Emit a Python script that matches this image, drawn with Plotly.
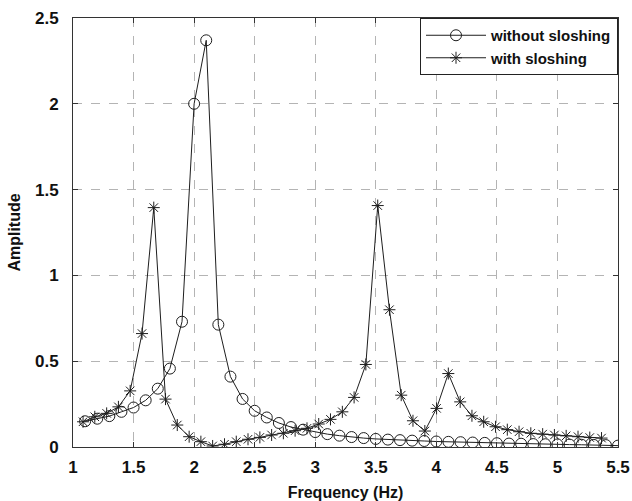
import plotly.graph_objects as go

# Frequency response of the structure, without and with liquid sloshing
freq_without = [1.1, 1.2, 1.3, 1.4, 1.5, 1.6, 1.7, 1.8, 1.9, 2.0,
                2.1, 2.2, 2.3, 2.4, 2.5, 2.6, 2.7, 2.8, 2.9, 3.0,
                3.1, 3.2, 3.3, 3.4, 3.5, 3.6, 3.7, 3.8, 3.9, 4.0,
                4.1, 4.2, 4.3, 4.4, 4.5, 4.6, 4.7, 4.8, 4.9, 5.0,
                5.1, 5.2, 5.3, 5.4, 5.5]
amp_without = [0.150, 0.165, 0.180, 0.205, 0.230, 0.272, 0.340, 0.457, 0.730, 2.00,
               2.37, 0.713, 0.410, 0.280, 0.211, 0.172, 0.140, 0.116, 0.101, 0.087,
               0.075, 0.066, 0.058, 0.052, 0.047, 0.043, 0.040, 0.037, 0.035, 0.032,
               0.030, 0.028, 0.026, 0.024, 0.022, 0.020, 0.019, 0.017, 0.016, 0.015,
               0.014, 0.013, 0.012, 0.011, 0.008]

freq_with = [1.083, 1.180, 1.278, 1.375, 1.472, 1.570, 1.667, 1.764, 1.861, 1.959,
             2.056, 2.153, 2.251, 2.348, 2.445, 2.543, 2.640, 2.737, 2.834, 2.932,
             3.029, 3.126, 3.224, 3.321, 3.418, 3.516, 3.613, 3.710, 3.807, 3.905,
             4.002, 4.099, 4.197, 4.294, 4.391, 4.489, 4.586, 4.683, 4.780, 4.878,
             4.975, 5.072, 5.170, 5.267, 5.364]
amp_with = [0.147, 0.176, 0.196, 0.234, 0.327, 0.661, 1.395, 0.279, 0.128, 0.060,
            0.031, 0.006, 0.016, 0.031, 0.045, 0.056, 0.070, 0.080, 0.095, 0.109,
            0.134, 0.161, 0.205, 0.289, 0.481, 1.407, 0.800, 0.302, 0.153, 0.093,
            0.225, 0.428, 0.263, 0.182, 0.147, 0.118, 0.101, 0.089, 0.080, 0.075,
            0.070, 0.065, 0.060, 0.055, 0.052]

x_ticks = [1, 1.5, 2, 2.5, 3, 3.5, 4, 4.5, 5, 5.5]
y_ticks = [0, 0.5, 1, 1.5, 2, 2.5]

INK = "#1e1e1e"
FONT = "Liberation Sans, Arial, sans-serif"

fig = go.Figure()
fig.add_trace(go.Scatter(
    x=freq_without, y=amp_without, mode="lines+markers", name="without sloshing",
    line=dict(color=INK, width=1),
    marker=dict(symbol="circle-open", size=11, color=INK, line=dict(width=1, color=INK)),
))
fig.add_trace(go.Scatter(
    x=freq_with, y=amp_with, mode="lines+markers", name="with sloshing",
    line=dict(color=INK, width=1),
    marker=dict(symbol="asterisk-open", size=10, color=INK, line=dict(width=1, color=INK)),
))

axis_common = dict(
    showline=True, linecolor="#333333", linewidth=1, mirror="ticks",
    ticks="inside", ticklen=5, tickcolor="#333333",
    showgrid=True, gridcolor="#b4b4b4", griddash="dash", gridwidth=1,
    zeroline=False, automargin=False,
    tickfont=dict(family=FONT, size=17, color="#111111", weight="bold"),
)

fig.update_xaxes(
    range=[1, 5.5], tickvals=x_ticks, ticktext=[f"{v:g}" for v in x_ticks],
    title=dict(text="Frequency (Hz)", standoff=10,
               font=dict(family=FONT, size=16, color="#111111", weight="bold")),
    ticklabelstandoff=5,
    **axis_common,
)
fig.update_yaxes(
    range=[0, 2.5], tickvals=y_ticks, ticktext=[f"{v:g}" for v in y_ticks],
    title=dict(text="Amplitude", standoff=10,
               font=dict(family=FONT, size=16, color="#111111", weight="bold")),
    ticklabelstandoff=10,
    **axis_common,
)

fig.update_layout(
    width=632, height=501,
    margin=dict(l=73, r=14, t=18, b=54, autoexpand=False),
    paper_bgcolor="white", plot_bgcolor="white",
    showlegend=True,
    legend=dict(
        x=1.0, y=1.0, xanchor="right", yanchor="top",
        xref="paper", yref="paper",
        bgcolor="white", bordercolor="#222222", borderwidth=1,
        font=dict(family=FONT, size=15, color="#111111", weight="bold"),
        tracegroupgap=0, itemwidth=60,
    ),
)

fig.write_html("out.html")
